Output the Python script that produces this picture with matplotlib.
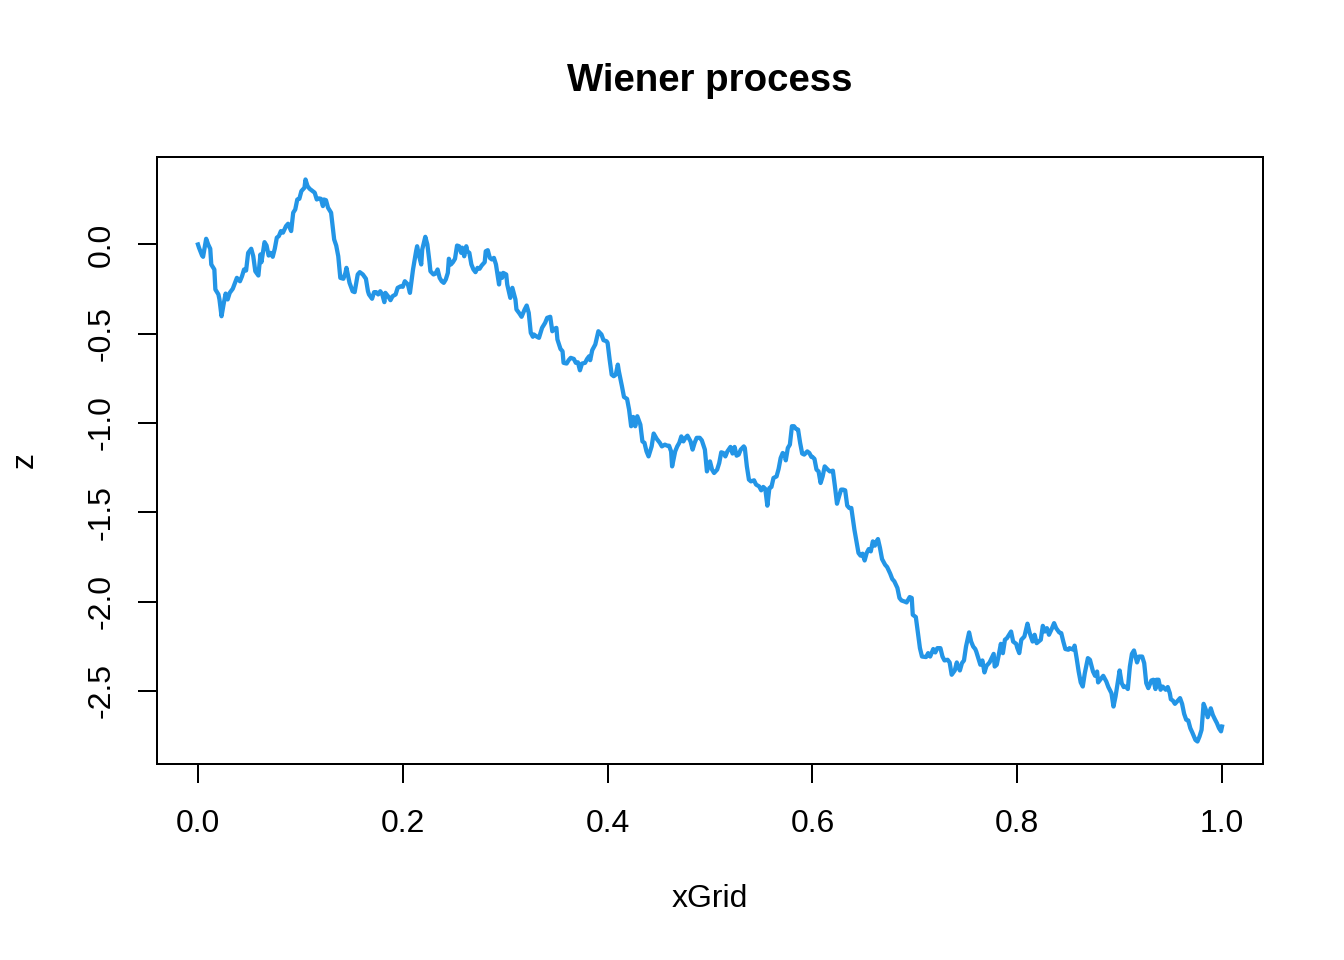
import matplotlib
matplotlib.use("Agg")
import matplotlib.pyplot as plt
import numpy as np

plt.rcParams['font.family'] = ['Liberation Sans', 'DejaVu Sans']

title = "Wiener process"
xlabel = "xGrid"
ylabel = "z"
xticks = [0.0, 0.2, 0.4, 0.6, 0.8, 1.0]
xtick_labels = ["0.0", "0.2", "0.4", "0.6", "0.8", "1.0"]
yticks = [0.0, -0.5, -1.0, -1.5, -2.0, -2.5]
ytick_labels = ["0.0", "-0.5", "-1.0", "-1.5", "-2.0", "-2.5"]

x_grid = [
    0.000, 0.001, 0.004, 0.005, 0.008, 0.010, 0.012, 0.013, 0.016, 0.017,
    0.020, 0.021, 0.023, 0.025, 0.027, 0.029, 0.031, 0.034, 0.038, 0.041,
    0.043, 0.045, 0.047, 0.049, 0.052, 0.054, 0.056, 0.059, 0.061, 0.062,
    0.065, 0.067, 0.069, 0.071, 0.073, 0.075, 0.077, 0.079, 0.081, 0.083,
    0.086, 0.088, 0.091, 0.093, 0.095, 0.097, 0.099, 0.101, 0.104, 0.105,
    0.107, 0.109, 0.112, 0.114, 0.116, 0.118, 0.120, 0.122, 0.123, 0.125,
    0.127, 0.130, 0.133, 0.135, 0.137, 0.139, 0.142, 0.144, 0.145, 0.148,
    0.151, 0.153, 0.156, 0.158, 0.161, 0.164, 0.166, 0.167, 0.170, 0.172,
    0.174, 0.176, 0.178, 0.180, 0.182, 0.183, 0.186, 0.188, 0.190, 0.193,
    0.195, 0.198, 0.200, 0.202, 0.205, 0.207, 0.210, 0.213, 0.214, 0.216,
    0.218, 0.219, 0.222, 0.224, 0.226, 0.227, 0.230, 0.232, 0.234, 0.236,
    0.238, 0.240, 0.242, 0.244, 0.245, 0.247, 0.249, 0.251, 0.253, 0.255,
    0.257, 0.258, 0.260, 0.262, 0.263, 0.265, 0.267, 0.269, 0.271, 0.273,
    0.275, 0.277, 0.280, 0.281, 0.283, 0.285, 0.287, 0.289, 0.291, 0.294,
    0.295, 0.297, 0.298, 0.301, 0.302, 0.305, 0.307, 0.310, 0.311, 0.314,
    0.316, 0.319, 0.321, 0.323, 0.325, 0.327, 0.328, 0.331, 0.333, 0.336,
    0.339, 0.341, 0.344, 0.346, 0.348, 0.350, 0.351, 0.354, 0.356, 0.357,
    0.360, 0.362, 0.364, 0.367, 0.369, 0.371, 0.373, 0.375, 0.378, 0.380,
    0.382, 0.383, 0.385, 0.388, 0.391, 0.394, 0.396, 0.399, 0.400, 0.402,
    0.404, 0.406, 0.408, 0.410, 0.411, 0.414, 0.416, 0.419, 0.421, 0.423,
    0.425, 0.427, 0.429, 0.432, 0.434, 0.436, 0.438, 0.440, 0.443, 0.445,
    0.448, 0.451, 0.453, 0.456, 0.458, 0.460, 0.462, 0.463, 0.466, 0.468,
    0.470, 0.472, 0.474, 0.476, 0.478, 0.481, 0.483, 0.485, 0.487, 0.490,
    0.492, 0.495, 0.497, 0.500, 0.502, 0.504, 0.507, 0.509, 0.511, 0.513,
    0.515, 0.517, 0.520, 0.522, 0.524, 0.526, 0.528, 0.530, 0.533, 0.534,
    0.536, 0.538, 0.540, 0.543, 0.545, 0.548, 0.550, 0.552, 0.554, 0.556,
    0.558, 0.560, 0.562, 0.565, 0.567, 0.569, 0.571, 0.573, 0.574, 0.576,
    0.578, 0.580, 0.582, 0.584, 0.586, 0.588, 0.590, 0.592, 0.595, 0.597,
    0.599, 0.600, 0.602, 0.604, 0.606, 0.608, 0.610, 0.612, 0.615, 0.617,
    0.620, 0.622, 0.624, 0.626, 0.628, 0.630, 0.632, 0.634, 0.636, 0.638,
    0.641, 0.643, 0.645, 0.647, 0.649, 0.651, 0.653, 0.655, 0.657, 0.659,
    0.661, 0.662, 0.664, 0.666, 0.668, 0.671, 0.673, 0.676, 0.678, 0.680,
    0.683, 0.685, 0.687, 0.690, 0.692, 0.695, 0.697, 0.698, 0.701, 0.703,
    0.705, 0.707, 0.711, 0.713, 0.715, 0.717, 0.718, 0.720, 0.722, 0.725,
    0.727, 0.729, 0.732, 0.734, 0.736, 0.739, 0.741, 0.742, 0.744, 0.746,
    0.748, 0.750, 0.753, 0.755, 0.757, 0.759, 0.760, 0.762, 0.764, 0.766,
    0.768, 0.770, 0.773, 0.775, 0.777, 0.778, 0.780, 0.782, 0.784, 0.786,
    0.788, 0.790, 0.792, 0.794, 0.796, 0.799, 0.800, 0.802, 0.804, 0.807,
    0.810, 0.812, 0.815, 0.817, 0.819, 0.823, 0.825, 0.827, 0.829, 0.831,
    0.834, 0.836, 0.838, 0.841, 0.843, 0.845, 0.847, 0.850, 0.851, 0.855,
    0.856, 0.858, 0.860, 0.862, 0.864, 0.866, 0.869, 0.871, 0.874, 0.876,
    0.878, 0.879, 0.881, 0.884, 0.887, 0.889, 0.892, 0.894, 0.896, 0.898,
    0.900, 0.902, 0.904, 0.906, 0.908, 0.910, 0.912, 0.914, 0.917, 0.919,
    0.922, 0.924, 0.926, 0.928, 0.931, 0.933, 0.935, 0.936, 0.938, 0.940,
    0.942, 0.945, 0.947, 0.949, 0.950, 0.952, 0.954, 0.956, 0.959, 0.961,
    0.963, 0.965, 0.967, 0.969, 0.971, 0.974, 0.976, 0.978, 0.980, 0.982,
    0.984, 0.986, 0.989, 0.991, 0.993, 0.995, 0.997, 0.999, 1.000,
]

z = [
    0.000, -0.018, -0.062, -0.069, 0.032, 0.000, -0.024, -0.112, -0.140, -0.252,
    -0.280, -0.308, -0.402, -0.336, -0.275, -0.308, -0.271, -0.248, -0.187, -0.206,
    -0.178, -0.140, -0.146, -0.047, -0.024, -0.066, -0.150, -0.174, -0.056, -0.099,
    0.013, -0.006, -0.062, -0.047, -0.069, -0.024, 0.038, 0.047, 0.075, 0.066,
    0.103, 0.116, 0.075, 0.178, 0.196, 0.252, 0.256, 0.299, 0.318, 0.364,
    0.327, 0.312, 0.299, 0.290, 0.252, 0.258, 0.256, 0.215, 0.252, 0.248,
    0.206, 0.178, 0.028, -0.006, -0.066, -0.187, -0.192, -0.159, -0.131, -0.215,
    -0.262, -0.267, -0.168, -0.155, -0.168, -0.192, -0.262, -0.280, -0.304, -0.267,
    -0.267, -0.280, -0.262, -0.280, -0.323, -0.271, -0.293, -0.312, -0.290, -0.280,
    -0.243, -0.234, -0.237, -0.206, -0.224, -0.271, -0.140, -0.038, -0.010, -0.066,
    -0.112, -0.028, 0.043, 0.000, -0.094, -0.150, -0.168, -0.163, -0.140, -0.187,
    -0.206, -0.215, -0.196, -0.159, -0.080, -0.112, -0.099, -0.080, -0.006, -0.010,
    -0.047, -0.018, -0.066, -0.010, -0.038, -0.047, -0.112, -0.140, -0.155, -0.131,
    -0.136, -0.118, -0.099, -0.038, -0.032, -0.075, -0.084, -0.075, -0.112, -0.224,
    -0.163, -0.187, -0.159, -0.168, -0.224, -0.299, -0.243, -0.308, -0.364, -0.387,
    -0.405, -0.364, -0.342, -0.383, -0.495, -0.517, -0.504, -0.517, -0.523, -0.467,
    -0.439, -0.411, -0.405, -0.486, -0.473, -0.467, -0.532, -0.585, -0.598, -0.663,
    -0.667, -0.648, -0.635, -0.641, -0.663, -0.660, -0.705, -0.667, -0.663, -0.641,
    -0.626, -0.648, -0.592, -0.560, -0.486, -0.504, -0.536, -0.542, -0.551, -0.645,
    -0.729, -0.738, -0.729, -0.673, -0.710, -0.794, -0.854, -0.865, -0.925, -1.018,
    -0.966, -1.018, -0.962, -1.009, -1.103, -1.111, -1.159, -1.187, -1.131, -1.059,
    -1.089, -1.111, -1.131, -1.121, -1.127, -1.127, -1.159, -1.243, -1.159, -1.131,
    -1.111, -1.075, -1.103, -1.083, -1.071, -1.103, -1.149, -1.111, -1.083, -1.083,
    -1.097, -1.149, -1.271, -1.215, -1.261, -1.280, -1.261, -1.224, -1.164, -1.168,
    -1.187, -1.159, -1.134, -1.171, -1.134, -1.183, -1.177, -1.149, -1.131, -1.140,
    -1.243, -1.317, -1.327, -1.321, -1.345, -1.355, -1.377, -1.358, -1.369, -1.463,
    -1.364, -1.358, -1.308, -1.299, -1.257, -1.196, -1.168, -1.177, -1.209, -1.140,
    -1.121, -1.018, -1.018, -1.033, -1.037, -1.111, -1.171, -1.177, -1.159, -1.168,
    -1.190, -1.190, -1.201, -1.261, -1.271, -1.336, -1.299, -1.243, -1.261, -1.271,
    -1.267, -1.355, -1.452, -1.411, -1.373, -1.373, -1.377, -1.463, -1.476, -1.476,
    -1.597, -1.663, -1.728, -1.743, -1.732, -1.770, -1.728, -1.706, -1.719, -1.663,
    -1.687, -1.669, -1.650, -1.700, -1.762, -1.794, -1.807, -1.844, -1.874, -1.887,
    -1.924, -1.980, -1.994, -2.000, -2.005, -1.975, -1.980, -2.074, -2.087, -2.176,
    -2.261, -2.308, -2.311, -2.289, -2.308, -2.280, -2.266, -2.285, -2.261, -2.261,
    -2.308, -2.330, -2.326, -2.341, -2.410, -2.386, -2.341, -2.364, -2.386, -2.345,
    -2.330, -2.252, -2.173, -2.224, -2.252, -2.266, -2.280, -2.317, -2.354, -2.330,
    -2.397, -2.360, -2.341, -2.317, -2.293, -2.364, -2.354, -2.298, -2.237, -2.289,
    -2.214, -2.205, -2.186, -2.168, -2.224, -2.237, -2.259, -2.289, -2.214, -2.196,
    -2.124, -2.173, -2.224, -2.186, -2.233, -2.214, -2.136, -2.168, -2.149, -2.186,
    -2.149, -2.121, -2.149, -2.173, -2.177, -2.224, -2.266, -2.270, -2.261, -2.270,
    -2.247, -2.317, -2.392, -2.453, -2.476, -2.401, -2.317, -2.326, -2.392, -2.416,
    -2.392, -2.453, -2.438, -2.416, -2.448, -2.479, -2.513, -2.588, -2.532, -2.457,
    -2.386, -2.457, -2.479, -2.476, -2.490, -2.364, -2.293, -2.274, -2.341, -2.308,
    -2.308, -2.345, -2.457, -2.485, -2.442, -2.438, -2.490, -2.438, -2.438, -2.494,
    -2.476, -2.494, -2.479, -2.513, -2.547, -2.555, -2.573, -2.560, -2.541, -2.573,
    -2.629, -2.662, -2.666, -2.709, -2.734, -2.775, -2.784, -2.756, -2.719, -2.573,
    -2.603, -2.648, -2.598, -2.635, -2.659, -2.681, -2.709, -2.727, -2.700,
]

line_color = "#2395E6"

fig = plt.figure(figsize=(7, 5), dpi=192)
ax = fig.add_axes([157 / 1344, 1 - 764 / 960, (1263 - 157) / 1344, (764 - 157) / 960])

ax.plot(x_grid, z, color=line_color, linewidth=1.6, solid_joinstyle='round')

xmin, xmax = min(x_grid), max(x_grid)
zmin, zmax = min(z), max(z)
xpad = 0.04 * (xmax - xmin)
zpad = 0.04 * (zmax - zmin)
ax.set_xlim(xmin - xpad, xmax + xpad)
ax.set_ylim(zmin - zpad, zmax + zpad)

ax.set_xticks(xticks)
ax.set_xticklabels(xtick_labels)
ax.set_yticks(yticks)
ax.set_yticklabels(ytick_labels, rotation=90, va='center')

for s in ax.spines.values():
    s.set_linewidth(0.75)
    s.set_color('black')

ax.tick_params(axis='both', direction='out', length=7, width=0.75, labelsize=12, colors='black')
ax.tick_params(axis='x', pad=10)
ax.tick_params(axis='y', pad=8)

ax.set_xlabel(xlabel, fontsize=12, va='center')
ax.xaxis.set_label_coords(0.5, (764 - 899) / 607)
ax.set_ylabel(ylabel, fontsize=12, va='center')
ax.yaxis.set_label_coords((25 - 157) / 1106, (764 - 460) / 607)
fig.text((157 + 1263) / 2 / 1344, 1 - 81 / 960, title, fontsize=14.4, fontweight='bold',
         ha='center', va='center')

fig.savefig("out.png", dpi=192)
